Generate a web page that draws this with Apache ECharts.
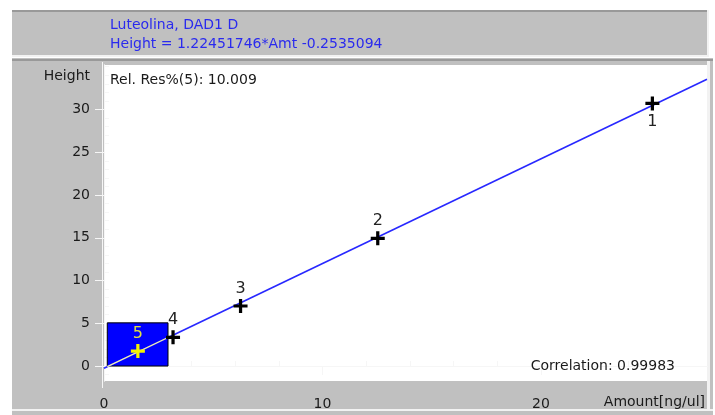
<!DOCTYPE html>
<html>
<head>
<meta charset="utf-8">
<script src="https://cdn.jsdelivr.net/npm/echarts@6/dist/echarts.min.js"></script>
<style>
  html, body { margin: 0; padding: 0; background: #ffffff; }
  #chart { width: 715px; height: 415px; }
</style>
</head>
<body>
<div id="chart"></div>
<script>
// Calibration levels (amount in ng/ul, response height)
const levelNames = ['1', '2', '3', '4', '5'];
const amounts = [25.1, 12.53, 6.25, 3.16, 1.55];
const heights = [30.7, 14.94, 7.02, 3.36, 1.75];
const highlightedLevel = '5';

// Linear fit stated in the header
const slope = 1.22451746;
const intercept = -0.2535094;
const headerLines = ['Luteolina, DAD1 D', 'Height = 1.22451746*Amt -0.2535094'];
const relResText = 'Rel. Res%(5): 10.009';
const correlationText = 'Correlation: 0.99983';

// Axes
const xRange = [0, 27.6];
const yRange = [-1.75, 35.2];
const xMajorTicks = [0, 10, 20];
const xMinorTicks = [2, 4, 6, 8, 12, 14, 16, 18, 22, 24, 26];
const yMajorTicks = [0, 5, 10, 15, 20, 25, 30];
const yMinorTicks = [-1, 1, 2, 3, 4, 6, 7, 8, 9, 11, 12, 13, 14, 16, 17, 18, 19, 21, 22, 23, 24, 26, 27, 28, 29, 31, 32, 33, 34, 35];

// Range box around the highlighted level
const boxAmountRange = [0.15, 2.93];
const boxHeightRange = [0, 5.05];

const FONT = '"DejaVu Sans", Verdana, sans-serif';
const TEXT_SIZE = 14;
const PANEL = '#c0c0c0';
const TICK = '#f6f6f6';
const INK = '#1a1a1a';
const PLUS = 'path://M5,0h3v5h5v3h-5v5h-3v-5h-5v-3h5z';

const chart = echarts.init(document.getElementById('chart'), null, { renderer: 'canvas' });

const points = amounts.map((a, i) => {
  const hi = levelNames[i] === highlightedLevel;
  return {
    name: levelNames[i],
    value: [a, heights[i]],
    itemStyle: { color: hi ? '#f4f400' : '#000000', opacity: 1 },
    label: {
      position: i === 0 ? 'bottom' : 'top',
      distance: i === 0 ? 3 : 2,
      color: hi ? '#e0e040' : '#222222'
    }
  };
});

const fitLine = [xRange[0], xRange[1]].map(x => [x, slope * x + intercept]);
const boxLine = boxAmountRange.map(x => [x, slope * x + intercept]);

function axisPair(range, major, minor, extra) {
  const base = {
    type: 'value',
    min: range[0],
    max: range[1],
    splitLine: { show: false },
    axisLine: { show: true, lineStyle: { color: TICK, width: 1 } }
  };
  const a = Object.assign({}, base, {
    axisTick: { show: true, inside: false, length: 9, customValues: major, lineStyle: { color: TICK } },
    axisLabel: Object.assign({ customValues: major, color: INK, fontFamily: FONT, fontSize: TEXT_SIZE }, extra)
  });
  const b = Object.assign({}, base, {
    axisTick: { show: true, inside: false, length: 5, customValues: minor, lineStyle: { color: TICK } },
    axisLabel: { show: false }
  });
  return [a, b];
}

function label(x, y, text, align, color) {
  return {
    type: 'text', z: 10,
    style: { x: x, y: y, text: text, align: align || 'left', verticalAlign: 'middle',
             fill: color || INK, font: TEXT_SIZE + 'px ' + FONT }
  };
}

const option = {
  backgroundColor: '#ffffff',
  animation: false,
  grid: {
    left: 104, top: 65, width: 603, height: 316,
    show: true, backgroundColor: '#ffffff', borderWidth: 0
  },
  xAxis: axisPair(xRange, xMajorTicks, xMinorTicks, { margin: 16 }),
  yAxis: axisPair(yRange, yMajorTicks, yMinorTicks, { margin: 14 }),
  graphic: [
    // header band
    { type: 'rect', z: -10, shape: { x: 12, y: 10, width: 697, height: 47 }, style: { fill: PANEL } },
    { type: 'rect', z: -9, shape: { x: 12, y: 10, width: 697, height: 2 }, style: { fill: '#999999' } },
    { type: 'rect', z: -9, shape: { x: 12, y: 55, width: 697, height: 2 }, style: { fill: '#f2f2f2' } },
    { type: 'rect', z: -9, shape: { x: 707, y: 10, width: 2, height: 47 }, style: { fill: '#f2f2f2' } },
    // lower panel
    { type: 'rect', z: -10, shape: { x: 12, y: 58, width: 701, height: 357 }, style: { fill: PANEL } },
    { type: 'rect', z: -9, shape: { x: 12, y: 59, width: 701, height: 2 }, style: { fill: '#999999' } },
    { type: 'rect', z: -9, shape: { x: 707, y: 61, width: 3, height: 349 }, style: { fill: '#f2f2f2' } },
    { type: 'rect', z: -9, shape: { x: 12, y: 409, width: 701, height: 2 }, style: { fill: '#f2f2f2' } },
    { type: 'rect', z: -9, shape: { x: 102, y: 62, width: 1, height: 326 }, style: { fill: '#f6f6f6' } },
    // header text
    label(110, 25, headerLines[0], 'left', '#2a2aee'),
    label(110, 44, headerLines[1], 'left', '#2a2aee'),
    // axis names
    label(90, 76, 'Height', 'right'),
    label(705, 402, 'Amount[ng/ul]', 'right'),
    // statistics
    label(110, 80, relResText, 'left'),
    label(675, 366, correlationText, 'right')
  ],
  series: [
    {
      type: 'line',
      z: 1,
      data: [],
      markArea: {
        silent: true,
        itemStyle: { color: '#0000ff', opacity: 1, borderColor: '#000000', borderWidth: 1 },
        data: [[{ coord: [boxAmountRange[0], boxHeightRange[0]] }, { coord: [boxAmountRange[1], boxHeightRange[1]] }]]
      }
    },
    {
      type: 'line',
      z: 2,
      data: fitLine,
      symbol: 'none',
      silent: true,
      lineStyle: { color: '#2828ff', width: 1.6 }
    },
    {
      type: 'line',
      z: 3,
      data: boxLine,
      symbol: 'none',
      silent: true,
      lineStyle: { color: '#f4f4b0', width: 1.2 }
    },
    {
      type: 'scatter',
      z: 4,
      data: points,
      symbol: PLUS,
      symbolSize: 14,
      label: {
        show: true,
        formatter: '{b}',
        fontFamily: FONT,
        fontSize: 16
      }
    }
  ]
};

chart.setOption(option);
</script>
</body>
</html>
